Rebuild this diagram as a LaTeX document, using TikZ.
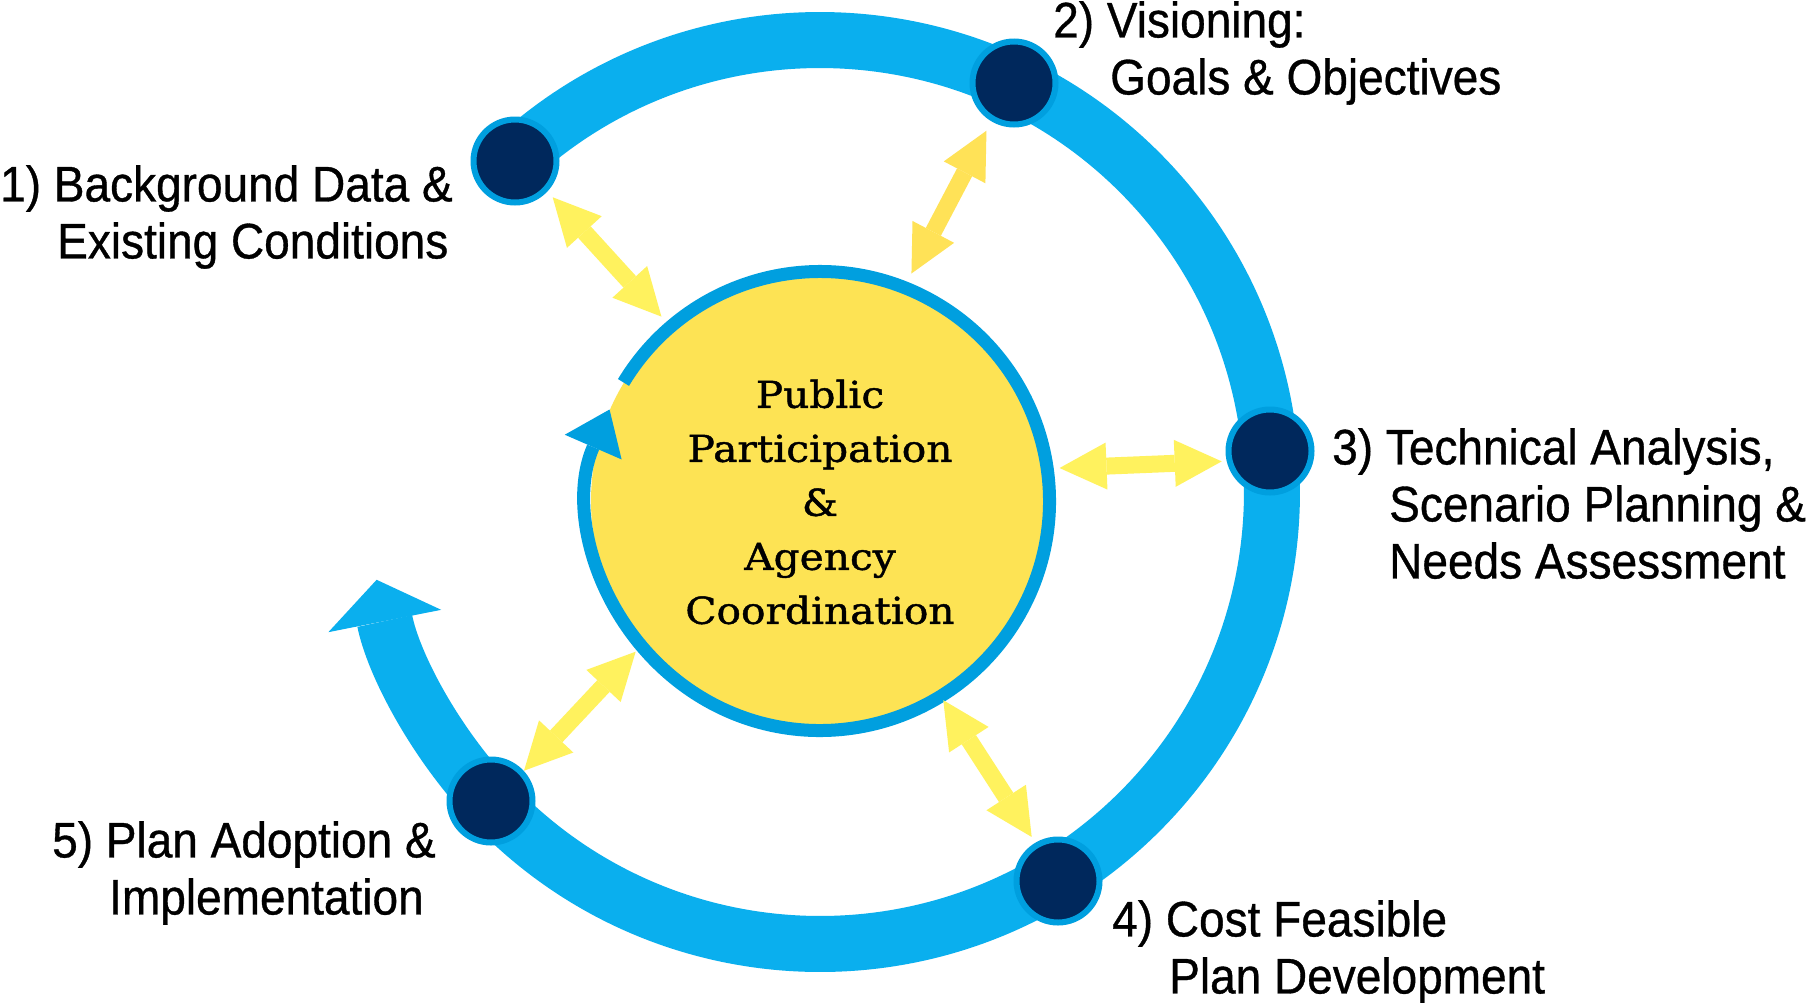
\documentclass[tikz,border=0pt]{standalone}
\usepackage{fontspec}
\setmainfont{Liberation Sans}[FakeStretch=0.92,FakeBold=0.7]
\newfontfamily\centerfont{DejaVu Serif}[FakeStretch=1.1,FakeBold=1.2]
\usetikzlibrary{arrows.meta,calc}
\definecolor{ringblue}{HTML}{0AAFEE}
\definecolor{innerblue}{HTML}{009FDF}
\definecolor{navy}{HTML}{00285C}
\definecolor{sun}{HTML}{FDE354}
\definecolor{paleyellow}{HTML}{FFF25E}
\definecolor{deepyellow}{HTML}{FFE257}
\tikzset{
  stage/.style={circle, fill=navy, draw=innerblue, line width=6pt, minimum size=83pt, inner sep=0pt},
  hub/.style={circle, fill=sun, minimum size=458pt, inner sep=0pt},
  hubtext/.style={align=center, inner sep=0pt, font=\centerfont\fontsize{37}{54}\selectfont},
  steplabel/.style={anchor=north west, align=left, inner sep=0pt, font=\fontsize{50}{57}\selectfont},
  link/.style={draw=paleyellow, line width=17pt,
    {Triangle[width=47pt,length=47pt,line width=0pt]}-{Triangle[width=47pt,length=47pt,line width=0pt]}},
  bigring/.style={draw=ringblue, line width=56pt, -{Triangle[width=115pt,length=42pt,line width=0pt]}},
  smallring/.style={draw=innerblue, line width=13pt, -{Triangle[width=62pt,length=41pt,line width=0pt]}}
}
\begin{document}
\begin{tikzpicture}[x=1pt,y=1pt]
\useasboundingbox (0,0) rectangle (1806,-1002);
\fill[white] (0,0) rectangle (1806,-1002);
\coordinate (R) at (820,-492);
% outer cycle
\draw[bigring] ($(R)+(132.65:452)$) arc[start angle=132.65, end angle=-168.8, radius=452];
% stages
\node[stage] (n1) at (515,-161) {};
\node[stage] (n2) at (1014,-83) {};
\node[stage] (n3) at (1270,-451) {};
\node[stage] (n4) at (1058,-881) {};
\node[stage] (n5) at (491,-801) {};
% hub
\node[hub] (c) at (820,-501) {};
\draw[smallring] ($(c.center)+(148.9:229.5)$) arc[start angle=148.9, end angle=-203.5, radius=229.5];
\node[hubtext] (ct) at (820,-502) {Public\\Participation\\\&\\Agency\\Coordination};
% two-way links
\draw[link] ($(c.center)!243.2pt!-1.2:(n1.center)$) -- ($(n1.center)!52.3pt!4.2:(c.center)$);
\draw[link, draw=deepyellow] ($(c.center)!245.2pt!3.0:(n2.center)$) -- ($(n2.center)!55.1pt!-5.1:(c.center)$);
\draw[link] ($(c.center)!241.8pt!1.5:(n3.center)$) -- ($(n3.center)!49.4pt!5.8:(c.center)$);
\draw[link] ($(c.center)!234.3pt!-0.3:(n4.center)$) -- ($(n4.center)!51.3pt!-1.2:(c.center)$);
\draw[link] ($(c.center)!238.1pt!-3.1:(n5.center)$) -- ($(n5.center)!44.8pt!0.2:(c.center)$);
% labels
\node[steplabel] (l1) at (0,-165) {1) Background Data \&\\\hspace*{57pt}Existing Conditions};
\node[steplabel] (l2) at (1053,-1) {2) Visioning:\\\hspace*{57pt}Goals \& Objectives};
\node[steplabel] (l3) at (1332,-428) {3) Technical Analysis,\\\hspace*{57pt}Scenario Planning \&\\\hspace*{57pt}Needs Assessment};
\node[steplabel] (l4) at (1112,-900) {4) Cost Feasible\\\hspace*{57pt}Plan Development};
\node[steplabel] (l5) at (52,-821) {5) Plan Adoption \&\\\hspace*{57pt}Implementation};
\end{tikzpicture}
\end{document}
